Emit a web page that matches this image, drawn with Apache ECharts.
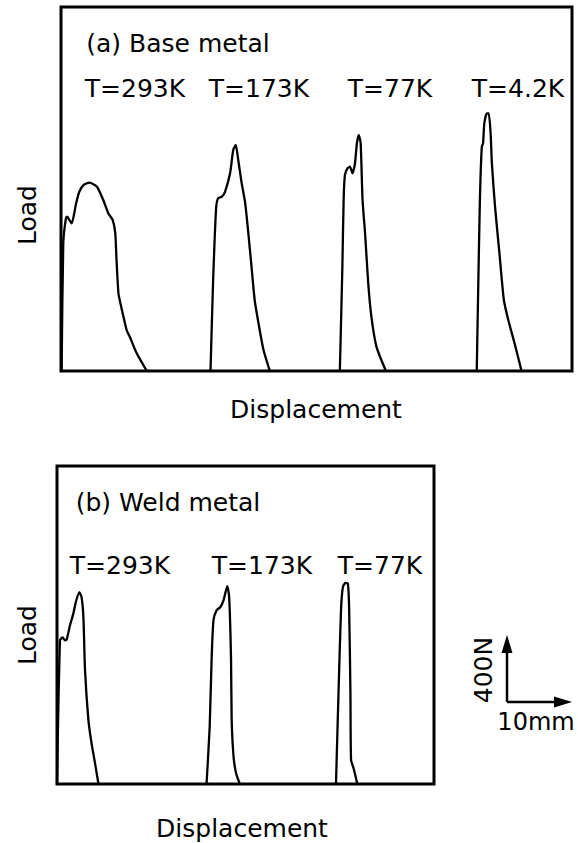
<!DOCTYPE html>
<html>
<head>
<meta charset="utf-8">
<script src="https://cdn.jsdelivr.net/npm/echarts@6/dist/echarts.min.js"></script>
<style>
html,body{margin:0;padding:0;background:#fff;}
#chart{width:578px;height:843px;}
</style>
</head>
<body>
<div id="chart"></div>
<script>
// Displacement (mm) vs Load (N) (scale bar: 10 mm, 400 N)
var panelTitles = ['(a) Base metal', '(b) Weld metal'];
var baseTemps = ['T=293K', 'T=173K', 'T=77K', 'T=4.2K'];
var weldTemps = ['T=293K', 'T=173K', 'T=77K'];

var baseT293 = [[0.1,0],[0.36,788],[0.79,942],[1.0,950],[1.3,930],[1.7,909],[2.4,1032],[2.9,1103],[3.6,1145],[4.5,1159],[5.7,1134],[6.7,1052],[7.5,970],[8.2,929],[8.6,849],[8.8,683],[9.1,480],[9.4,420],[9.9,334],[10.4,252],[10.9,211],[12.0,109],[13.6,0]];
var baseT173 = [[23.7,0],[24.1,542],[24.6,1011],[24.9,1063],[25.5,1073],[26.0,1103],[26.8,1217],[27.3,1360],[27.7,1391],[28.1,1298],[28.6,1165],[29.2,1032],[29.7,847],[30.2,642],[30.7,437],[31.4,273],[32.1,129],[33.1,0]];
var baseT77 = [[44.2,0],[44.6,642],[44.8,1052],[45.0,1206],[45.4,1247],[45.8,1257],[46.2,1217],[46.6,1278],[46.9,1401],[47.2,1452],[47.5,1401],[47.8,1052],[48.2,847],[48.7,540],[49.2,334],[50.0,150],[51.5,0]];
var baseT4 = [[65.9,0],[66.1,437],[66.4,1052],[66.7,1380],[66.9,1401],[67.1,1524],[67.5,1586],[67.8,1586],[68.1,1463],[68.3,1278],[68.8,1011],[69.5,724],[70.2,437],[70.9,314],[71.9,170],[73.0,0]];

var weldT293 = [[0,0],[0.48,886],[0.91,903],[1.27,886],[1.54,890],[2.07,978],[2.6,1050],[3.0,1122],[3.55,1183],[3.9,1153],[4.2,1030],[4.46,702],[5.0,394],[5.5,250],[6.05,129],[6.6,0]];
var weldT173 = [[23.8,0],[24.3,353],[24.6,763],[24.9,1009],[25.4,1071],[26.0,1091],[26.5,1132],[27.1,1219],[27.4,1153],[27.7,763],[27.8,394],[28.1,168],[28.5,66],[29.1,0]];
var weldT77 = [[44.4,0],[44.8,558],[45.2,1071],[45.5,1214],[45.9,1239],[46.3,1235],[46.5,1071],[46.7,558],[46.8,148],[47.2,97],[47.8,0]];

var axisTitles = {x: 'Displacement', y: 'Load'};
var scaleBar = {load: '400N', disp: '10mm'};

var FONT = 'DejaVu Sans';
var chart = echarts.init(document.getElementById('chart'), null, {renderer: 'svg'});

function lineSeries(data, idx) {
  return {
    type: 'line', xAxisIndex: idx, yAxisIndex: idx, data: data,
    showSymbol: false, smooth: 0.2, animation: false,
    lineStyle: {color: '#000', width: 2.3}
  };
}
function txt(x, y, s, size, rot) {
  return {type: 'text', x: x, y: y, rotation: rot || 0,
    style: {text: s, font: size + 'px "' + FONT + '"', fill: '#000', align: 'center', verticalAlign: 'middle'}};
}

var option = {
  backgroundColor: '#fff',
  animation: false,
  grid: [
    {left: 61, top: 7, width: 511, height: 364, show: true, borderColor: '#000', borderWidth: 3, backgroundColor: 'transparent'},
    {left: 57, top: 466, width: 377, height: 318, show: true, borderColor: '#000', borderWidth: 3, backgroundColor: 'transparent'}
  ],
  xAxis: [
    {type: 'value', gridIndex: 0, min: 0, max: 81, show: false},
    {type: 'value', gridIndex: 1, min: 0, max: 60, show: false}
  ],
  yAxis: [
    {type: 'value', gridIndex: 0, min: 0, max: 2240, show: false},
    {type: 'value', gridIndex: 1, min: 0, max: 1960, show: false}
  ],
  series: [
    lineSeries(baseT293, 0), lineSeries(baseT173, 0), lineSeries(baseT77, 0), lineSeries(baseT4, 0),
    lineSeries(weldT293, 1), lineSeries(weldT173, 1), lineSeries(weldT77, 1)
  ],
  graphic: [
    txt(178, 43, panelTitles[0], 25),
    txt(135, 88, baseTemps[0], 25),
    txt(259, 88, baseTemps[1], 25),
    txt(390, 88, baseTemps[2], 25),
    txt(518, 88, baseTemps[3], 25),
    txt(316, 409, axisTitles.x, 25),
    txt(27, 215, axisTitles.y, 25, Math.PI / 2),
    txt(168, 502, panelTitles[1], 25),
    txt(120, 565, weldTemps[0], 25),
    txt(262, 565, weldTemps[1], 25),
    txt(380, 565, weldTemps[2], 25),
    txt(242, 828, axisTitles.x, 25),
    txt(27, 635, axisTitles.y, 25, Math.PI / 2),
    txt(483, 670, scaleBar.load, 25, Math.PI / 2),
    txt(536, 722, scaleBar.disp, 24),
    {type: 'polyline', shape: {points: [[507, 702], [507, 644]]}, style: {stroke: '#000', lineWidth: 2.5, fill: null}},
    {type: 'polygon', shape: {points: [[507, 635], [501.5, 653], [512.5, 653]]}, style: {fill: '#000'}},
    {type: 'polyline', shape: {points: [[507, 702], [562, 702]]}, style: {stroke: '#000', lineWidth: 2.5, fill: null}},
    {type: 'polygon', shape: {points: [[572, 702], [554, 696.5], [554, 707.5]]}, style: {fill: '#000'}}
  ]
};
chart.setOption(option);
</script>
</body>
</html>
